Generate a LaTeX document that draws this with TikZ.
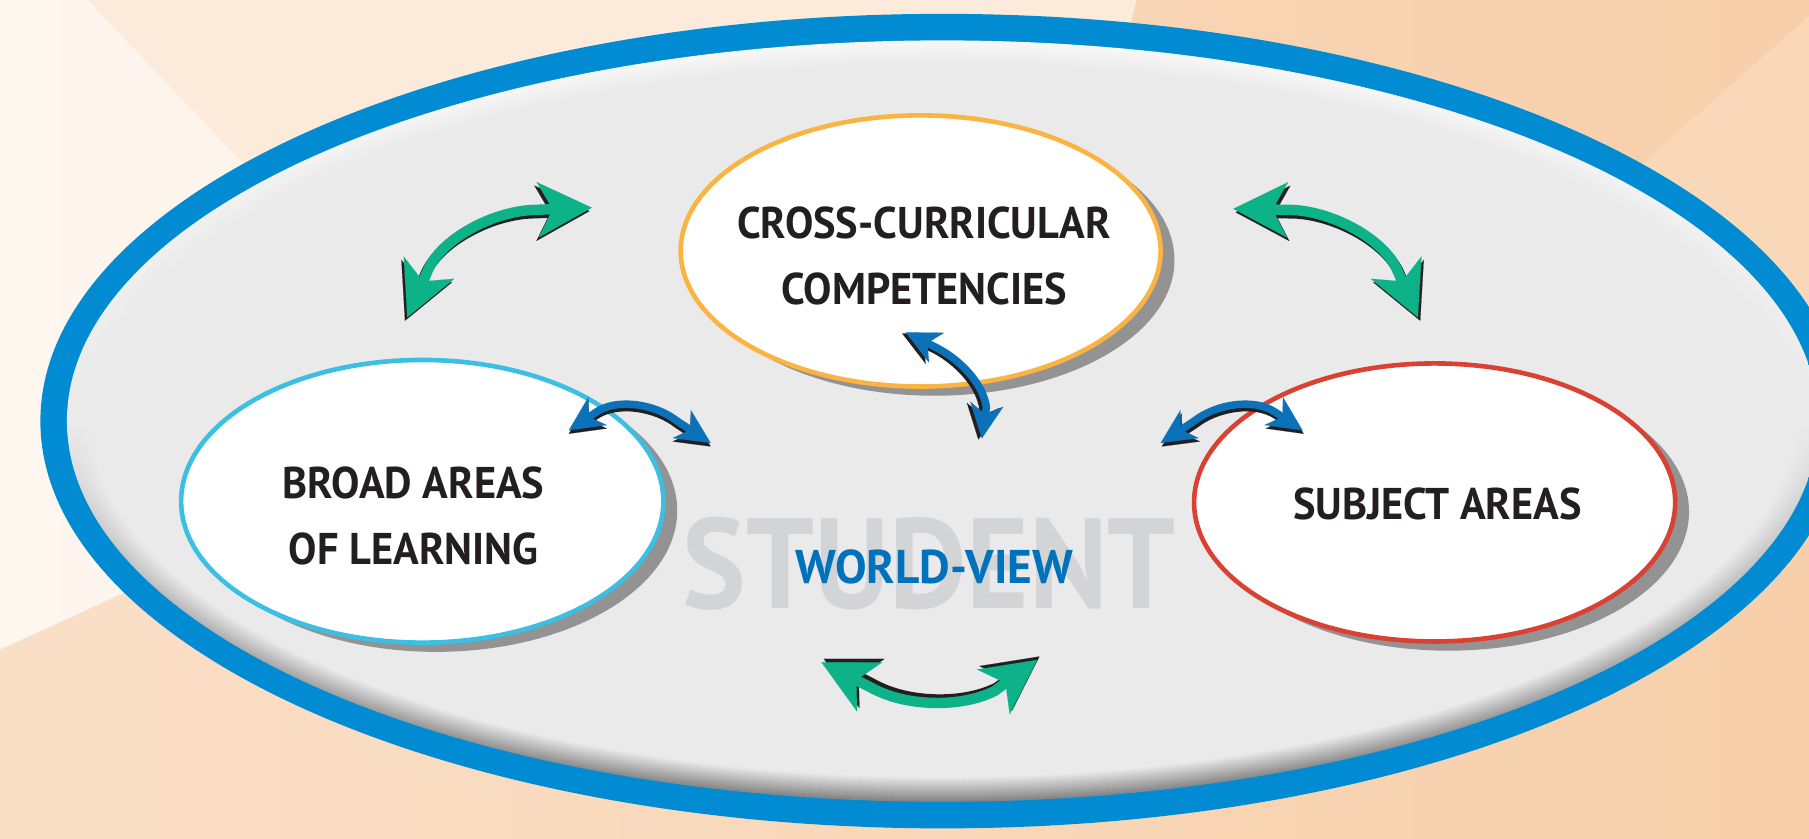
\documentclass[tikz,border=0pt]{standalone}
\usepackage{fontspec}
\setmainfont{PT Sans}
\newfontfamily\lblfont[FakeStretch=0.955]{PT Sans}
\newfontfamily\studfont[FakeStretch=0.935]{PT Sans}
\usetikzlibrary{arrows.meta}
\definecolor{ringblue}{HTML}{008BD2}
\definecolor{graybg}{HTML}{EAEAEA}
\definecolor{hiG}{HTML}{F8F8F8}
\definecolor{loG}{HTML}{858585}
\definecolor{shadowG}{HTML}{939393}
\definecolor{edgeOrange}{HTML}{FBB442}
\definecolor{edgeCyan}{HTML}{3BC0E3}
\definecolor{edgeRed}{HTML}{DA4132}
\definecolor{labeltext}{HTML}{231F20}
\definecolor{wvblue}{HTML}{0072BC}
\definecolor{studgray}{HTML}{D3D4D6}
\definecolor{arrgreen}{HTML}{0DB289}
\definecolor{arrblue}{HTML}{0B72BA}
\definecolor{arrshadow}{HTML}{231F20}
\definecolor{bgA}{HTML}{FADFC7}
\definecolor{bgB}{HTML}{F7CFAA}
\definecolor{bgTop}{HTML}{FCEBDA}
\definecolor{bgStripL}{HTML}{FEF7F0}
\definecolor{bgStripR}{HTML}{FCF0E4}
\definecolor{bgTR}{HTML}{F9D8BA}
\tikzset{
  gtip/.tip={Stealth[length=47pt,width=48pt,inset=13pt,line width=0.1pt]},
  btip/.tip={Stealth[length=30pt,width=29pt,inset=9pt,line width=0.1pt]},
  garrow/.style={line width=9pt, draw=arrgreen, gtip-gtip},
  barrow/.style={line width=6.5pt, draw=arrblue, btip-btip},
  shadowed/.style={draw=arrshadow},
  lbl/.style={font=\fontsize{38.5}{57}\selectfont\lblfont\bfseries, text=labeltext, align=center, inner sep=0pt},
  whiteell/.style={fill=white, line width=4pt},
  shadowell/.style={fill=shadowG}
}
\begin{document}
\begin{tikzpicture}[x=1pt,y=-1pt]
\useasboundingbox (0,0) rectangle (1568,726.4);
\clip (0,0) rectangle (1568,726.4);
% background
\shade[left color=bgA, right color=bgB] (0,0) rectangle (1568,726.4);
\fill[bgTop] (76,0) -- (985,0) -- (900,365) -- (426,368) -- cycle;
\shade[left color=bgStripL, right color=bgStripR] (0,0) -- (76,0) -- (426,368) -- (0,563) -- cycle;
\fill[bgTR] (1568,14) -- (1330,224) -- (1568,420) -- cycle;
% outer ring
\fill[ringblue] (817,365) ellipse [x radius=782, y radius=353];
\foreach \k in {0,...,16}{
  \pgfmathsetmacro\p{100*\k/16}
  \pgfmathsetmacro\rx{759-\k*1.3}
  \pgfmathsetmacro\ry{330-\k*1.3}
  \shade[top color=graybg!\p!hiG, bottom color=graybg!\p!loG, middle color=graybg] (817,365) ellipse [x radius=\rx, y radius=\ry];
}
% three white ellipses with shadows
\fill[shadowell] (810,225.5) ellipse [x radius=208, y radius=117.5];
\fill[shadowell] (378,442.5) ellipse [x radius=209, y radius=122.5];
\fill[shadowell] (1255.5,443.5) ellipse [x radius=208.5, y radius=120.5];
\draw[whiteell, draw=edgeOrange] (798,217.5) ellipse [x radius=208, y radius=117.5];
\draw[whiteell, draw=edgeCyan] (366,434.5) ellipse [x radius=209, y radius=122.5];
\draw[whiteell, draw=edgeRed] (1243.5,435.5) ellipse [x radius=208.5, y radius=120.5];
% texts
\node[lbl] (ccc) at (801,222) {CROSS-CURRICULAR\\COMPETENCIES};
\node[lbl] (bal) at (358.5,447) {BROAD AREAS\\OF LEARNING};
\node[lbl, anchor=base] (sa) at (1246,450) {SUBJECT AREAS};
\node[inner sep=0pt, anchor=base, text=studgray, font=\fontsize{111}{111}\selectfont\studfont\bfseries] (stud) at (805.5,527) {STUDENT};
\node[inner sep=0pt, anchor=base, text=wvblue, font=\fontsize{41}{41}\selectfont\bfseries] (wv) at (810,505.5) {WORLD-VIEW};
% arrow end coordinates
\coordinate (g1a) at (353,275); \coordinate (g1b) at (513,180);
\coordinate (g2a) at (1069,181); \coordinate (g2b) at (1229,275);
\coordinate (g3a) at (712,574); \coordinate (g3b) at (899,572);
\coordinate (b1a) at (493,373); \coordinate (b1b) at (616,384);
\coordinate (b2a) at (1006,384); \coordinate (b2b) at (1129,373);
\coordinate (b3a) at (785,288); \coordinate (b3b) at (851,380);
% green arrows
\draw[garrow, shadowed, transform canvas={shift={(-2pt,-3pt)}}] (g1a) -- (371,234) .. controls (382,208) and (425,184) .. (461,182) -- (g1b);
\draw[garrow] (g1a) -- (371,234) .. controls (382,208) and (425,184) .. (461,182) -- (g1b);
\draw[garrow, shadowed, transform canvas={shift={(2pt,-3pt)}}] (g2a) -- (1121,182) .. controls (1157,184) and (1200,208) .. (1211,234) -- (g2b);
\draw[garrow] (g2a) -- (1121,182) .. controls (1157,184) and (1200,208) .. (1211,234) -- (g2b);
\draw[garrow, shadowed, transform canvas={shift={(2pt,3pt)}}] (g3a) -- (757,597) .. controls (785,612) and (832,614) .. (862,599) -- (g3b);
\draw[garrow] (g3a) -- (757,597) .. controls (785,612) and (832,614) .. (862,599) -- (g3b);
% blue arrows
\draw[barrow, shadowed, transform canvas={shift={(0pt,-3pt)}}] (b1a) -- (517,357) .. controls (535,345) and (568,350) .. (587,365) -- (b1b);
\draw[barrow] (b1a) -- (517,357) .. controls (535,345) and (568,350) .. (587,365) -- (b1b);
\draw[barrow, shadowed, transform canvas={shift={(1pt,-3pt)}}] (b2a) -- (1035,365) .. controls (1054,350) and (1087,345) .. (1105,357) -- (b2b);
\draw[barrow] (b2a) -- (1035,365) .. controls (1054,350) and (1087,345) .. (1105,357) -- (b2b);
\draw[barrow, shadowed, transform canvas={shift={(-3pt,-1pt)}}] (b3a) -- (813,302) .. controls (832,312) and (852,332) .. (855,353) -- (b3b);
\draw[barrow] (b3a) -- (813,302) .. controls (832,312) and (852,332) .. (855,353) -- (b3b);
\end{tikzpicture}
\end{document}
